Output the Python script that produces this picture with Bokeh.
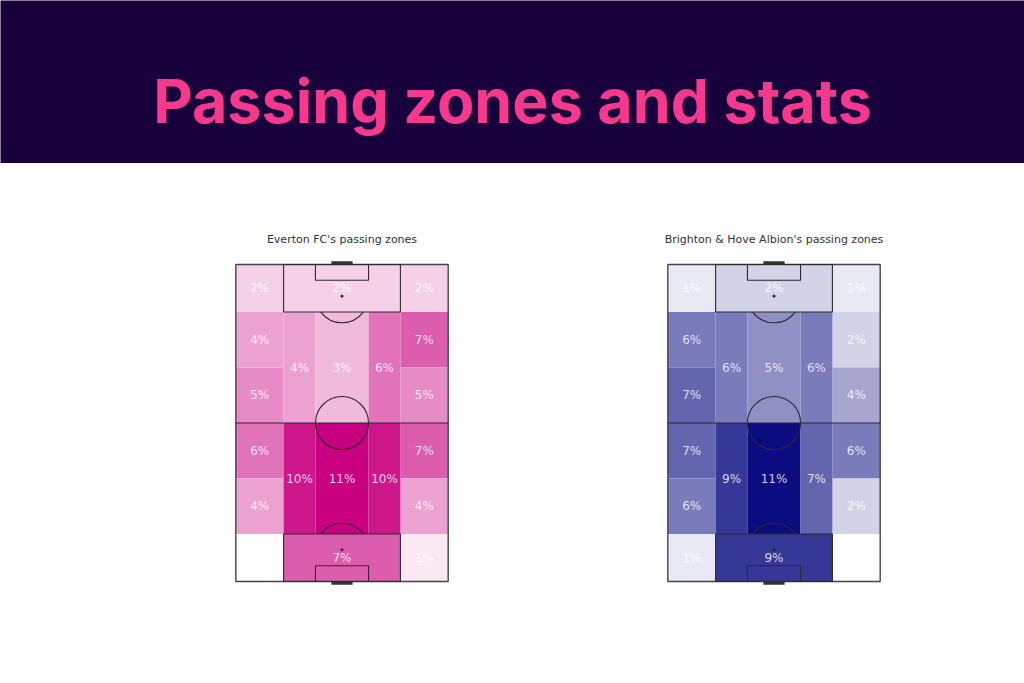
from bokeh.plotting import figure
from bokeh.layouts import column, row
from bokeh.models import Range1d, ColumnDataSource, LinearColorMapper
from bokeh.transform import transform
from bokeh.core.properties import value
from bokeh.embed import file_html
from bokeh.resources import INLINE

# ---------------- data ----------------
TITLE = "Passing zones and stats"
team_titles = ["Everton FC's passing zones", "Brighton & Hove Albion's passing zones"]

# positional zones on a vertical 80 x 120 pitch (left, right, bottom, top)
zone_left   = [0, 18, 62,   0, 0, 0, 0, 0,   62, 62, 62, 62, 62,   18, 18,   30, 30,   50, 50,   18]
zone_right  = [18, 62, 80,  18, 18, 18, 18, 18,  80, 80, 80, 80, 80,  30, 30,   50, 50,   62, 62,   62]
zone_bottom = [102, 102, 102, 81, 60, 39, 18, 0,  81, 60, 39, 18, 0,  60, 18,  60, 18,  60, 18,  0]
zone_top    = [120, 120, 120, 102, 81, 60, 39, 18, 102, 81, 60, 39, 18, 102, 60, 102, 60, 102, 60, 18]

everton_pct  = [2, 2, 2,  4, 5, 6, 4, 0,  7, 5, 7, 4, 1,  4, 10,  3, 11,  6, 10,  7]
brighton_pct = [1, 2, 1,  6, 7, 7, 6, 1,  2, 4, 6, 2, 0,  6, 9,   5, 11,  6, 7,   9]

team_values = [everton_pct, brighton_pct]
team_dark = [(200, 0, 127), (10, 12, 128)]

BANNER = "#17003C"
TITLE_PINK = "#F7398E"
LINE = "#2b2b2b"


def make_palette(dark, n=256):
    cols = []
    for i in range(n):
        t = i / (n - 1)
        r = round(255 + (dark[0] - 255) * t)
        g = round(255 + (dark[1] - 255) * t)
        b = round(255 + (dark[2] - 255) * t)
        cols.append("#%02x%02x%02x" % (r, g, b))
    return cols


# ---------------- header ----------------
header = figure(width=1024, height=163, x_range=Range1d(0, 1024), y_range=Range1d(0, 163),
                output_backend="svg", toolbar_location=None,
                x_axis_location=None, y_axis_location=None,
                min_border=0, outline_line_color=None,
                background_fill_color=BANNER, border_fill_color=BANNER)
header.grid.visible = False
header.text(x=[512], y=[63], text=[TITLE], text_align="center", text_baseline="alphabetic",
            text_font=value("Inter"), text_font_style="bold", text_font_size="61px",
            text_color=TITLE_PINK)


# ---------------- pitches ----------------
def pitch_figure(title, vals, dark, left_border):
    fw, fh = 223, 333
    p = figure(width=512, height=520, x_range=Range1d(-2, 82), y_range=Range1d(-3, 123),
               output_backend="svg", toolbar_location=None,
               x_axis_location=None, y_axis_location=None,
               min_border_left=left_border, min_border_right=512 - left_border - fw,
               min_border_top=93, min_border_bottom=520 - 93 - fh,
               outline_line_color=None, background_fill_color="white",
               border_fill_color="white", title=title)
    p.grid.visible = False
    p.title.align = "center"
    p.title.text_font = "DejaVu Sans"
    p.title.text_font_style = "normal"
    p.title.text_font_size = "11px"
    p.title.text_color = "#333333"
    p.title.standoff = 22

    src = ColumnDataSource(dict(left=zone_left, right=zone_right, bottom=zone_bottom, top=zone_top,
                                val=vals, label=["%d%%" % v for v in vals],
                                cx=[(a + b) / 2 for a, b in zip(zone_left, zone_right)],
                                cy=[(a + b) / 2 for a, b in zip(zone_bottom, zone_top)]))
    mapper = LinearColorMapper(palette=make_palette(dark), low=0, high=max(vals))
    p.quad(left="left", right="right", bottom="bottom", top="top", source=src,
           fill_color=transform("val", mapper), line_color=None)

    # pitch markings
    lw = 1.1
    p.quad(left=[0], right=[80], bottom=[0], top=[120], fill_color=None, line_color="#444444", line_width=1.4)
    p.segment(x0=[0], y0=[60], x1=[80], y1=[60], line_color=LINE, line_width=lw)
    p.quad(left=[18, 18, 30, 30], right=[62, 62, 50, 50], bottom=[102, 0, 114, 0], top=[120, 18, 120, 6],
           fill_color=None, line_color=LINE, line_width=lw)
    p.circle(x=[40], y=[60], radius=10, fill_color=None, line_color=LINE, line_width=lw)
    p.arc(x=[40, 40], y=[108, 12], radius=10, start_angle=[3.785, 0.6435], end_angle=[5.640, 2.498],
          line_color=LINE, line_width=lw)
    p.scatter(x=[40, 40], y=[108, 12], size=2.2, color=LINE)
    p.segment(x0=[36, 36], y0=[120.6, -0.6], x1=[44, 44], y1=[120.6, -0.6], line_color="#333333", line_width=3)

    p.text(x="cx", y="cy", text="label", source=src, text_align="center", text_baseline="middle",
           text_font=value("DejaVu Sans"), text_font_size="12px", text_color="white", text_alpha=0.8)
    return p


p1 = pitch_figure(team_titles[0], team_values[0], team_dark[0], 230)
p2 = pitch_figure(team_titles[1], team_values[1], team_dark[1], 150)

layout = column(header, row(p1, p2, spacing=0), spacing=0)

open("out.html", "w").write(file_html(layout, INLINE))
